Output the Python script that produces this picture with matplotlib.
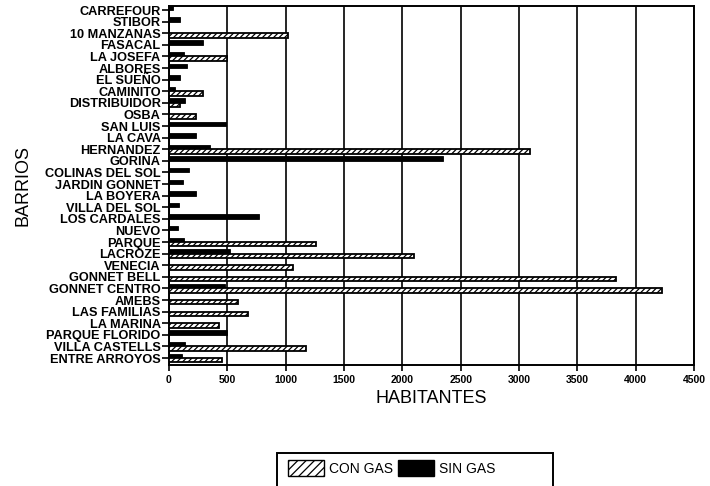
import matplotlib
matplotlib.use("Agg")
import matplotlib.pyplot as plt
from matplotlib.patches import Rectangle, Patch
import numpy as np

plt.rcParams['font.family'] = ['Liberation Sans', 'DejaVu Sans']
plt.rcParams['hatch.linewidth'] = 0.9

# barrios, top to bottom as in the original chart
barrios = ["CARREFOUR", "STIBOR", "10 MANZANAS", "FASACAL", "LA JOSEFA", "ALBORES",
           "EL SUEÑO", "CAMINITO", "DISTRIBUIDOR", "OSBA", "SAN LUIS", "LA CAVA",
           "HERNANDEZ", "GORINA", "COLINAS DEL SOL", "JARDIN GONNET", "LA BOYERA",
           "VILLA DEL SOL", "LOS CARDALES", "NUEVO", "PARQUE", "LACROZE", "VENECIA",
           "GONNET BELL", "GONNET CENTRO", "AMEBS", "LAS FAMILIAS", "LA MARINA",
           "PARQUE FLORIDO", "VILLA CASTELLS", "ENTRE ARROYOS"]

con_gas = [0, 0, 1020, 0, 500, 0, 0, 290, 90, 235, 0, 0, 3090, 0, 0, 0, 0, 0, 0, 0,
           1260, 2100, 1065, 3830, 4225, 590, 680, 430, 0, 1170, 455]
sin_gas = [35, 95, 0, 295, 130, 150, 90, 50, 135, 0, 490, 230, 350, 2350, 170, 120,
           230, 85, 770, 75, 130, 520, 0, 0, 480, 0, 0, 0, 495, 135, 115]

x_ticks = [0, 500, 1000, 1500, 2000, 2500, 3000, 3500, 4000, 4500]

fig = plt.figure(figsize=(7.1, 4.86), dpi=100)
ax = fig.add_axes([169 / 710, 1 - 365 / 486, (694 - 169) / 710, (365 - 6) / 486])

n = len(barrios)
y = np.arange(n)[::-1]  # first barrio on top
h = 0.38

# SIN GAS slightly above, CON GAS slightly below each tick
ax.barh(y + 0.19, sin_gas, height=h, color="black", edgecolor="black",
        linewidth=0.6, zorder=3)
ax.barh(y - 0.19, con_gas, height=h, color="white", edgecolor="black",
        hatch="//////", linewidth=1.3, zorder=3)

ax.set_xlim(0, 4500)
ax.set_ylim(-0.6, n - 1 + 0.35)
ax.set_xticks(x_ticks)
ax.set_xticklabels([str(v) for v in x_ticks], fontsize=7.5, fontweight="bold")
ax.set_yticks(y)
ax.set_yticklabels(barrios, fontsize=9.2, fontweight="bold")
ax.tick_params(axis="y", length=5, width=1.2, pad=1)
ax.tick_params(axis="x", length=4, width=1.2, pad=3)

ax.grid(axis="x", color="black", linewidth=1.2, zorder=0)
for s in ax.spines.values():
    s.set_linewidth(1.4)

ax.set_xlabel("HABITANTES", fontsize=13, labelpad=4)
ax.set_ylabel("BARRIOS", fontsize=13, labelpad=10)

# legend box (partly cut off at the bottom like the scan)
fig.patches.append(Rectangle((277 / 710, -0.02), (553 - 277) / 710, 0.02 + (486 - 453) / 486,
                             transform=fig.transFigure, fill=False,
                             edgecolor="black", linewidth=1.4))
handles = [Patch(facecolor="white", edgecolor="black", hatch="////", label="CON GAS"),
           Patch(facecolor="black", edgecolor="black", label="SIN GAS")]
fig.legend(handles=handles, loc="center left", bbox_to_anchor=(278 / 710, 1 - 468 / 486),
           ncol=2, frameon=False, fontsize=10, handlelength=2.6, handleheight=1.3,
           columnspacing=0.3, handletextpad=0.4, borderpad=0.2)

fig.savefig("out.png", dpi=100)
